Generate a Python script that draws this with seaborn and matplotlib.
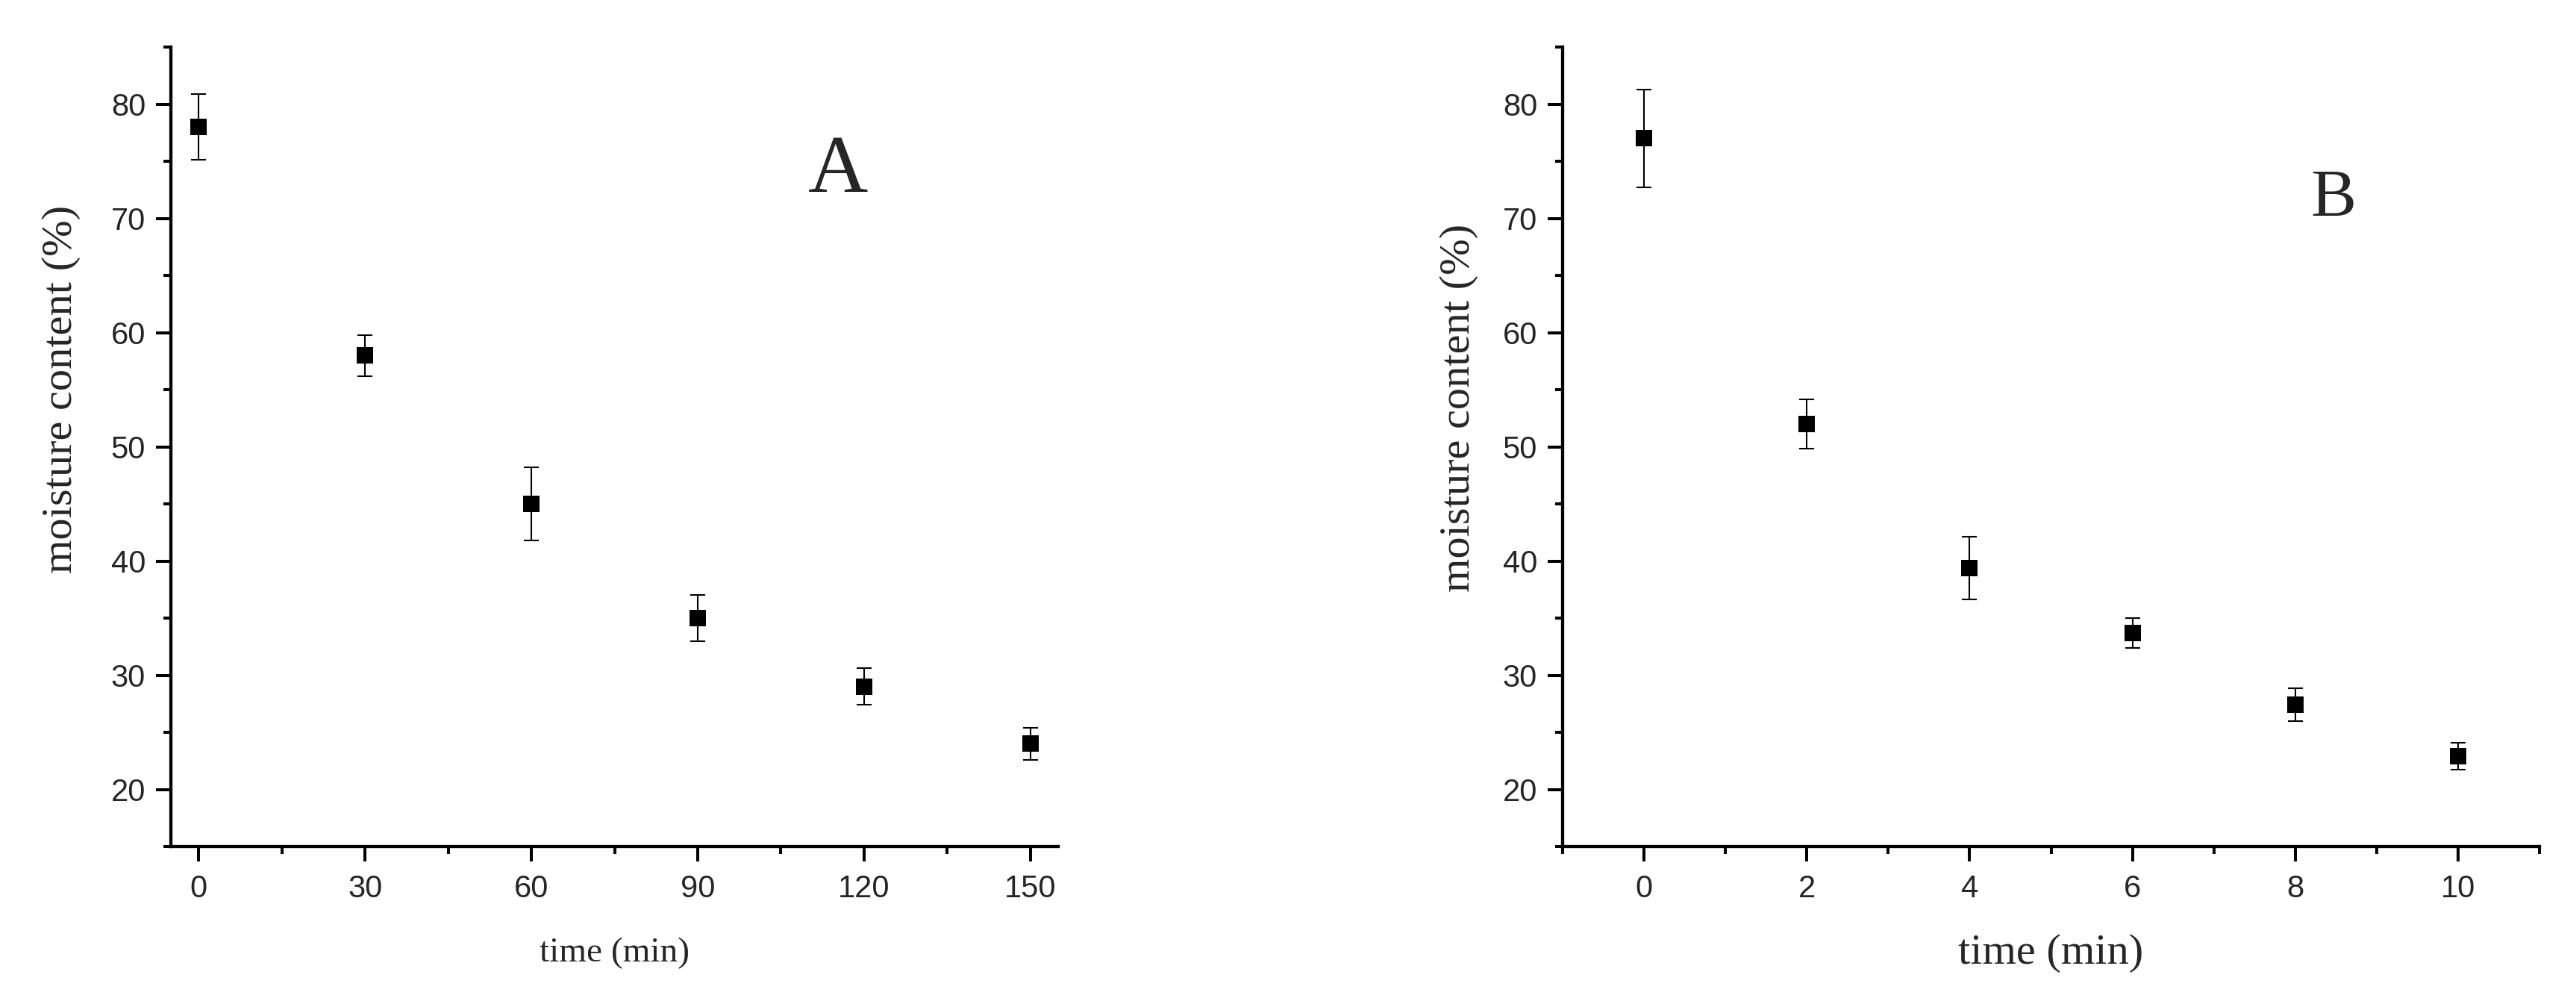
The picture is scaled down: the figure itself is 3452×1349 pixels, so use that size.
import numpy as np
import matplotlib
matplotlib.use("Agg")
import matplotlib.pyplot as plt
from matplotlib.ticker import MultipleLocator
import pandas as pd
import seaborn as sns

# panel A - time in minutes
time_a = [0, 30, 60, 90, 120, 150]
moist_a = [78.0, 58.0, 45.0, 35.0, 29.0, 24.0]
err_a = [2.9, 1.8, 3.2, 2.05, 1.6, 1.4]

# panel B - time in minutes
time_b = [0, 2, 4, 6, 8, 10]
moist_b = [77.0, 52.0, 39.4, 33.7, 27.4, 22.9]
err_b = [4.3, 2.15, 2.75, 1.3, 1.45, 1.2]

xlabel = "time (min)"
ylabel = "moisture content (%)"

sns.set_style("ticks")
plt.rcParams['font.family'] = ['Liberation Sans', 'DejaVu Sans']

W, H, dpi = 3452, 1349, 200
fig = plt.figure(figsize=(W / dpi, H / dpi), dpi=dpi)

def px_axes(l, r, t, b):
    return fig.add_axes([l / W, 1 - b / H, (r - l) / W, (b - t) / H])

ax_a = px_axes(229, 1418, 63, 1134)
ax_b = px_axes(2094, 3403, 63, 1134)

panels = [
    (ax_a, time_a, moist_a, err_a, (-5, 155), 30, 15, "A", (115.3, 72.3), 40, 17, -0.1236, 0.572),
    (ax_b, time_b, moist_b, err_b, (-1, 11), 2, 1, "B", (8.47, 70.15), 33, 21, -0.106, 0.549),
]

for ax, t, m, e, xlim, xmaj, xmin, letter, lpos, lsize, xls, ylx, yly in panels:
    df = pd.DataFrame({"time": t, "moisture": m, "err": e})
    ax.errorbar(df["time"], df["moisture"], yerr=df["err"], fmt="none",
                ecolor="black", elinewidth=0.75, capsize=3.6, capthick=0.75, zorder=2)
    sns.scatterplot(data=df, x="time", y="moisture", marker="s", s=64,
                    color="black", edgecolor="black", linewidth=0, ax=ax, zorder=3)
    ax.set_xlim(*xlim)
    ax.set_ylim(15, 85)
    ax.xaxis.set_major_locator(MultipleLocator(xmaj))
    ax.xaxis.set_minor_locator(MultipleLocator(xmin))
    ax.yaxis.set_major_locator(MultipleLocator(10))
    ax.yaxis.set_minor_locator(MultipleLocator(5))
    sns.despine(ax=ax)
    for s in ["left", "bottom"]:
        ax.spines[s].set_linewidth(1.55)
        ax.spines[s].set_color("black")
    ax.tick_params(which="major", length=7.2, width=1.45, color="black", labelsize=15, pad=6)
    ax.tick_params(which="minor", length=3.6, width=1.45, color="black")
    ax.tick_params(axis="y", which="major", pad=5)
    ax.set_xlabel(xlabel, family="Liberation Serif", fontsize=xls)
    ax.set_ylabel(ylabel, family="Liberation Serif", fontsize=21)
    ax.xaxis.label.set_verticalalignment("center")
    ax.xaxis.set_label_coords(0.5, -0.1335)
    ax.yaxis.label.set_verticalalignment("center")
    ax.yaxis.label.set_horizontalalignment("center")
    ax.yaxis.set_label_coords(ylx, yly)
    ax.text(lpos[0], lpos[1], letter, ha="center", va="baseline",
            family="Liberation Serif", fontsize=lsize)

fig.savefig("out.png", dpi=dpi)
